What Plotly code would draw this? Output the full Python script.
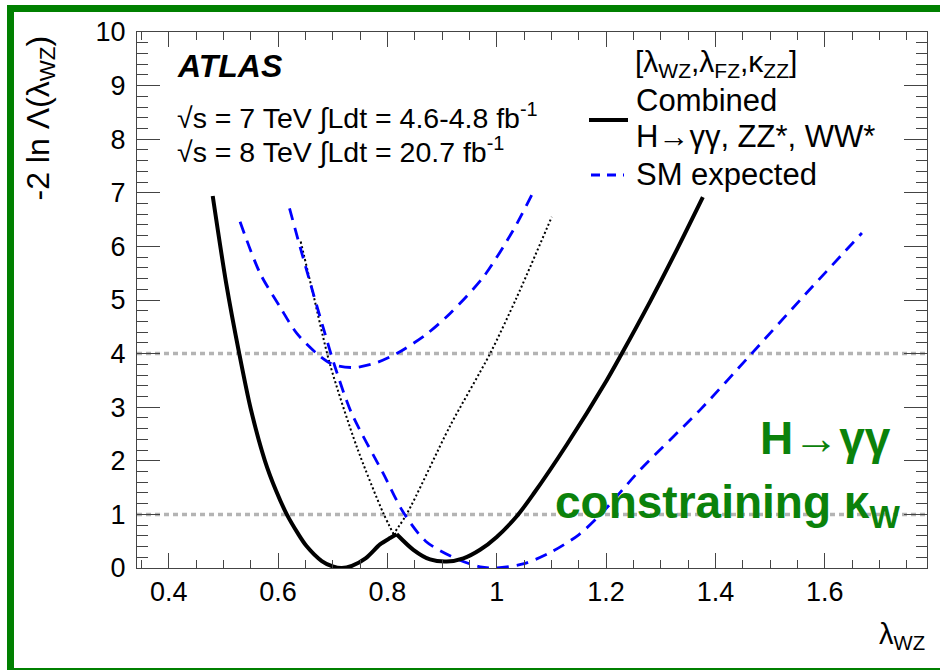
import plotly.graph_objects as go

# ---------------- data ----------------
# combined observed curve, split at the cusp near 0.817
combined_left_x = [0.4805, 0.505, 0.529, 0.55, 0.576, 0.596, 0.616, 0.636, 0.652, 0.68, 0.70, 0.7165,
                   0.735, 0.76, 0.7865, 0.805, 0.817]
combined_left_y = [6.94, 5.32, 4.0, 2.97, 2.0, 1.45, 1.0, 0.65, 0.41, 0.13, 0.03, 0.0,
                   0.04, 0.18, 0.44, 0.56, 0.63]
combined_right_x = [0.817, 0.8475, 0.878, 0.9085, 0.939, 0.9695, 1.0, 1.037, 1.067, 1.128,
                    1.201, 1.226, 1.281, 1.330, 1.377]
combined_right_y = [0.63, 0.34, 0.16, 0.12, 0.18, 0.34, 0.58, 0.97, 1.38, 2.3,
                    3.5, 3.95, 4.98, 5.95, 6.92]

sm_upper_x = [0.5305, 0.567, 0.6036, 0.634, 0.671, 0.70, 0.74, 0.78, 0.817, 0.87, 0.9146, 0.9756, 1.03, 1.064]
sm_upper_y = [6.46, 5.5, 4.87, 4.38, 4.0, 3.8, 3.74, 3.83, 4.0, 4.35, 4.75, 5.43, 6.3, 6.96]

sm_main_x = [0.621, 0.640, 0.6645, 0.683, 0.704, 0.734, 0.7926, 0.829, 0.87, 0.92, 0.97, 1.0,
             1.05, 1.1, 1.15, 1.19, 1.2623, 1.372, 1.4635, 1.555, 1.668]
sm_main_y = [6.71, 6.0, 5.12, 4.47, 3.76, 2.9, 1.76, 1.04, 0.5, 0.2, 0.02, 0.0,
             0.08, 0.3, 0.62, 1.0, 1.83, 2.95, 3.97, 5.0, 6.25]

dot_left_x = [0.6414, 0.6645, 0.695, 0.744, 0.7926, 0.812]
dot_left_y = [6.09, 5.1, 3.8, 2.26, 1.02, 0.62]
dot_right_x = [0.81, 0.835, 0.9146, 0.9878, 1.0366, 1.1006]
dot_right_y = [0.62, 1.0, 2.65, 4.0, 5.05, 6.55]

ref_levels = [1, 4]
x_range = [0.342, 1.787]
y_range = [0, 10]
x_tickvals = [0.4, 0.6, 0.8, 1.0, 1.2, 1.4, 1.6]
x_ticktext = ["0.4", "0.6", "0.8", "1", "1.2", "1.4", "1.6"]
y_tickvals = list(range(0, 11))
y_ticktext = [str(v) for v in y_tickvals]

# ---------------- figure ----------------
FONT = "Liberation Sans, Arial, Helvetica, sans-serif"
W, H = 940, 670
L, R, T, B = 137, 13, 32, 102
PW, PH = W - L - R, H - T - B


def px(xp):
    return (xp - L) / PW


def py(yp):
    return (H - B - yp) / PH


fig = go.Figure()

for lvl in ref_levels:
    fig.add_trace(go.Scatter(x=x_range, y=[lvl, lvl], mode="lines",
                             line=dict(color="#b4b4b4", width=3.5, dash="5px,4px"),
                             showlegend=False, hoverinfo="skip"))

dot_style = dict(color="black", width=2, dash="2px,2.5px", shape="spline", smoothing=0.8)
fig.add_trace(go.Scatter(x=dot_left_x, y=dot_left_y, mode="lines",
                         line=dot_style, showlegend=False))
fig.add_trace(go.Scatter(x=dot_right_x, y=dot_right_y, mode="lines",
                         line=dot_style, showlegend=False))

blue_style = dict(color="#0000ff", width=2.8, dash="12px,8px", shape="spline", smoothing=0.8)
fig.add_trace(go.Scatter(x=sm_upper_x, y=sm_upper_y, mode="lines",
                         line=blue_style, showlegend=False))
fig.add_trace(go.Scatter(x=sm_main_x, y=sm_main_y, mode="lines",
                         line=blue_style, showlegend=False))

solid_style = dict(color="black", width=4, shape="spline", smoothing=0.8)
fig.add_trace(go.Scatter(x=combined_left_x, y=combined_left_y, mode="lines",
                         line=solid_style, showlegend=False))
fig.add_trace(go.Scatter(x=combined_right_x, y=combined_right_y, mode="lines",
                         line=solid_style, showlegend=False))

axis_common = dict(showline=True, linecolor="#444", linewidth=1, mirror="ticks",
                   ticks="inside", tickcolor="#444", tickwidth=1, showgrid=False,
                   zeroline=False, tickfont=dict(family=FONT, size=27, color="black"))

fig.update_xaxes(range=x_range, tickvals=x_tickvals, ticktext=x_ticktext, ticklen=15,
                 ticklabelstandoff=0,
                 minor=dict(tick0=0.4, dtick=0.05, ticklen=8, ticks="inside",
                            tickcolor="#444", tickwidth=1, showgrid=False),
                 **axis_common)
fig.update_yaxes(range=y_range, tickvals=y_tickvals, ticktext=y_ticktext, ticklen=23,
                 ticklabelstandoff=5,
                 minor=dict(tick0=0, dtick=0.2, ticklen=11, ticks="inside",
                            tickcolor="#444", tickwidth=1, showgrid=False),
                 **axis_common)

GREEN = "#008000"
TGREEN = "#0b820b"
shapes = [
    # green frame
    dict(type="rect", xref="paper", yref="paper", x0=px(7), x1=px(941), y0=py(12), y1=py(5),
         fillcolor=GREEN, line=dict(width=0)),
    dict(type="rect", xref="paper", yref="paper", x0=px(7), x1=px(14), y0=py(670), y1=py(5),
         fillcolor=GREEN, line=dict(width=0)),
    dict(type="rect", xref="paper", yref="paper", x0=px(7), x1=px(941), y0=py(670), y1=py(668),
         fillcolor=GREEN, line=dict(width=0)),
    # legend samples
    dict(type="line", xref="paper", yref="paper", x0=px(589), x1=px(628), y0=py(120), y1=py(120),
         line=dict(color="black", width=4)),
    dict(type="line", xref="paper", yref="paper", x0=px(591), x1=px(624), y0=py(175), y1=py(175),
         line=dict(color="#0000ff", width=2.8, dash="9px,7px")),
]


def ann(text, xpix, ypix, size, xanchor="left", yanchor="middle", color="black", angle=0):
    return dict(text=text, x=px(xpix), y=py(ypix), xref="paper", yref="paper",
                xanchor=xanchor, yanchor=yanchor, showarrow=False, textangle=angle,
                font=dict(family=FONT, size=size, color=color))


annotations = [
    ann("<b><i>ATLAS</i></b>", 175, 66, 32),
    ann("√s = 7 TeV ∫Ldt = 4.6-4.8 fb<sup>-1</sup>", 175, 116, 28.5),
    ann("√s = 8 TeV ∫Ldt = 20.7 fb<sup>-1</sup>", 175, 151, 28.5),
    ann("[λ<sub>WZ</sub>,λ<sub>FZ</sub>,κ<sub>ZZ</sub>]", 633, 64, 30),
    ann("Combined", 634, 100, 31),
    ann("H→γγ, ZZ*, WW*", 634, 136, 31),
    ann("SM expected", 634, 174, 31),
    ann("-2 ln Λ(λ<sub>WZ</sub>)", 40, 34, 32, xanchor="center", yanchor="top", angle=-90),
    ann("λ<sub>WZ</sub>", 927, 636, 29, xanchor="right"),
    ann("<b>H→γγ</b>", 893, 438, 46, xanchor="right", color=TGREEN),
    ann("<b>constraining κ<sub>W</sub></b>", 902, 505, 46, xanchor="right", color=TGREEN),
]

fig.update_layout(width=W, height=H, margin=dict(l=L, r=R, t=T, b=B),
                  paper_bgcolor="white", plot_bgcolor="white",
                  shapes=shapes, annotations=annotations, showlegend=False)

fig.write_html("out.html")
